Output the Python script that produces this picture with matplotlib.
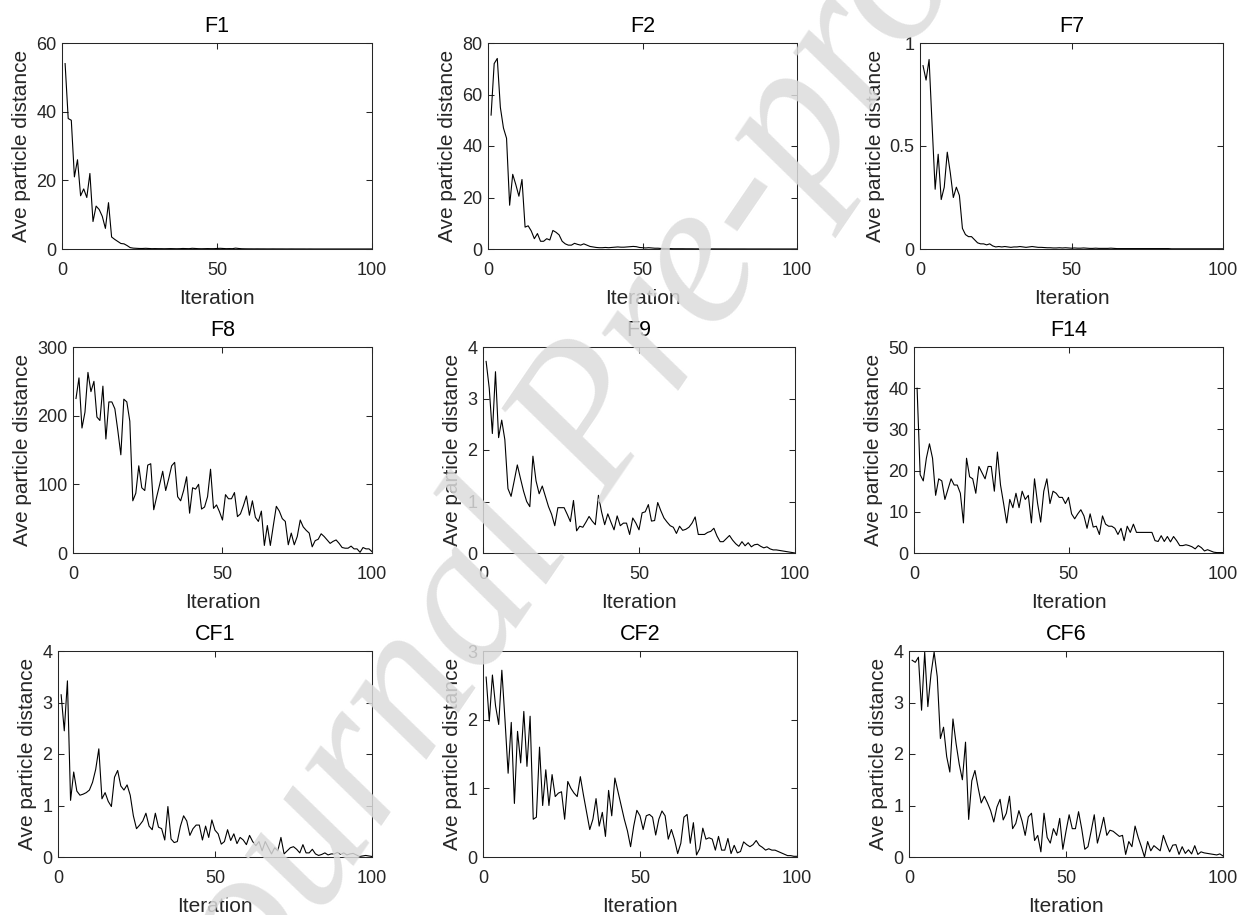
import matplotlib
matplotlib.use('Agg')
import matplotlib.pyplot as plt
from matplotlib.ticker import FuncFormatter

plt.rcParams['font.family'] = ['Liberation Sans', 'DejaVu Sans']

iterations = list(range(1, 101))

titles = ['F1', 'F2', 'F7', 'F8', 'F9', 'F14', 'CF1', 'CF2', 'CF6']

f1 = [54, 38, 37.5, 21, 26, 15.5, 17.5, 15, 22, 8,
      12.5, 11.5, 9.5, 6, 13.5, 3.5, 2.8, 2.2, 1.6, 1.5,
      1.0, 0.4, 0.25, 0.2, 0.15, 0.15, 0.2, 0.15, 0.1, 0.12,
      0.1, 0.1, 0.08, 0.1, 0.12, 0.1, 0.08, 0.1, 0.15, 0.12,
      0.1, 0.2, 0.15, 0.1, 0.08, 0.1, 0.12, 0.1, 0.1, 0.15,
      0.2, 0.15, 0.1, 0.12, 0.1, 0.25, 0.15, 0.08, 0.06, 0.05,
      0.05, 0.04, 0.05, 0.04, 0.04, 0.03, 0.03, 0.04, 0.03, 0.03,
      0.03, 0.02, 0.02, 0.03, 0.02, 0.02, 0.02, 0.02, 0.01, 0.02,
      0.01, 0.01, 0.01, 0.01, 0.01, 0.01, 0.01, 0.01, 0.01, 0.01,
      0.01, 0.01, 0.01, 0.01, 0.01, 0.01, 0.01, 0.01, 0.01, 0.01]

f2 = [52, 72, 74, 55, 47, 43, 17, 29, 25, 20.5,
      27, 8.5, 9, 7, 4, 6, 3, 3, 4, 3.5,
      7.2, 6.5, 5.5, 3, 2, 1.5, 1.5, 2.2, 1.8, 1.5,
      2, 1.5, 1, 0.8, 0.6, 0.5, 0.5, 0.6, 0.5, 0.6,
      0.7, 0.8, 0.7, 0.7, 0.8, 0.9, 1.0, 0.9, 0.6, 0.5,
      0.4, 0.5, 0.4, 0.3, 0.3, 0.2, 0.2, 0.15, 0.15, 0.1,
      0.1, 0.1, 0.1, 0.08, 0.08, 0.08, 0.06, 0.06, 0.06, 0.05,
      0.05, 0.05, 0.05, 0.04, 0.04, 0.04, 0.04, 0.03, 0.03, 0.03,
      0.03, 0.03, 0.03, 0.02, 0.02, 0.02, 0.02, 0.02, 0.02, 0.02,
      0.02, 0.01, 0.01, 0.01, 0.01, 0.01, 0.01, 0.01, 0.01, 0.01]

f7 = [0.89, 0.82, 0.92, 0.6, 0.29, 0.46, 0.24, 0.3, 0.47, 0.37,
      0.25, 0.3, 0.26, 0.1, 0.07, 0.06, 0.06, 0.045, 0.03, 0.025,
      0.025, 0.02, 0.025, 0.015, 0.01, 0.012, 0.01, 0.012, 0.01, 0.008,
      0.01, 0.01, 0.012, 0.01, 0.008, 0.01, 0.012, 0.01, 0.008, 0.008,
      0.007, 0.006, 0.006, 0.005, 0.005, 0.006, 0.005, 0.006, 0.005, 0.004,
      0.005, 0.004, 0.004, 0.005, 0.004, 0.003, 0.003, 0.004, 0.003, 0.003,
      0.003, 0.003, 0.004, 0.003, 0.002, 0.002, 0.002, 0.002, 0.002, 0.002,
      0.002, 0.002, 0.002, 0.002, 0.002, 0.002, 0.002, 0.002, 0.002, 0.002,
      0.002, 0.002, 0.001, 0.001, 0.001, 0.001, 0.001, 0.001, 0.001, 0.001,
      0.001, 0.001, 0.001, 0.001, 0.001, 0.001, 0.001, 0.001, 0.001, 0.001]

f8 = [225, 255, 182, 205, 263, 235, 250, 198, 193, 243,
      166, 220, 220, 210, 178, 143, 224, 220, 192, 76,
      87, 127, 95, 91, 128, 130, 63, 82, 100, 119,
      91, 108, 127, 132, 82, 76, 91, 111, 58, 95,
      93, 100, 64, 67, 82, 122, 65, 70, 60, 48,
      85, 79, 79, 88, 53, 57, 69, 83, 55, 76,
      52, 46, 61, 11, 40, 11, 40, 68, 61, 50,
      46, 12, 29, 12, 24, 48, 38, 33, 29, 9,
      18, 20, 28, 24, 19, 14, 17, 19, 14, 8,
      7, 7, 10, 6, 6, 1, 8, 6, 6, 2]

f9 = [3.72, 3.2, 2.32, 3.52, 2.24, 2.58, 2.2, 1.25, 1.1, 1.4,
      1.71, 1.45, 1.2, 1.0, 0.9, 1.88, 1.4, 1.15, 1.3, 1.1,
      0.9, 0.75, 0.53, 0.88, 0.88, 0.88, 0.75, 0.61, 1.02, 0.43,
      0.52, 0.5, 0.6, 0.71, 0.62, 0.55, 1.12, 0.8, 0.55, 0.76,
      0.6, 0.45, 0.72, 0.53, 0.58, 0.58, 0.36, 0.68, 0.58, 0.45,
      0.78, 0.8, 0.94, 0.62, 0.63, 0.98, 0.82, 0.68, 0.6, 0.53,
      0.5, 0.38, 0.52, 0.44, 0.46, 0.5, 0.58, 0.7, 0.36, 0.36,
      0.36, 0.4, 0.42, 0.48, 0.33, 0.22, 0.22, 0.28, 0.34, 0.25,
      0.18, 0.13, 0.22, 0.14, 0.2, 0.12, 0.16, 0.17, 0.13, 0.1,
      0.12, 0.08, 0.06, 0.06, 0.05, 0.04, 0.03, 0.02, 0.01, 0.0]

f14 = [40, 19, 17.5, 23, 26.5, 23, 14, 18, 17.5, 13,
       15.5, 18, 16.5, 16.5, 14.5, 7.3, 23, 18.5, 18, 14.5,
       21, 19.5, 18, 21, 21, 15, 24.5, 16.5, 12, 7.3,
       13, 11, 14.5, 11, 15, 13, 14, 7.3, 18, 12,
       7.5, 15, 18, 12, 15, 14.5, 13.5, 13.5, 12, 13.5,
       9.5, 8.3, 9.5, 10.5, 9, 6, 9.5, 6.3, 6.5, 4.5,
       9, 7, 6.5, 6.5, 6, 4.5, 6, 3, 6.5, 5,
       7, 5, 5, 5, 5, 5, 5, 3, 2.8, 4.2,
       2.8, 4, 2.7, 4, 3, 1.8, 1.8, 2, 1.8, 1.5,
       1.0, 1.8, 1.3, 0.5, 0.8, 0.5, 0.2, 0.1, 0.1, 0.1]

cf1 = [3.15, 2.45, 3.42, 1.1, 1.65, 1.28, 1.2, 1.22, 1.25, 1.3,
       1.45, 1.7, 2.1, 1.13, 1.25, 1.08, 0.98, 1.55, 1.68, 1.38,
       1.3, 1.4, 1.2, 0.8, 0.55, 0.62, 0.7, 0.85, 0.6, 0.53,
       0.85, 0.58, 0.55, 0.33, 0.98, 0.35, 0.28, 0.3, 0.6, 0.8,
       0.7, 0.42, 0.55, 0.62, 0.62, 0.33, 0.6, 0.38, 0.72, 0.52,
       0.45, 0.25, 0.3, 0.53, 0.32, 0.45, 0.26, 0.38, 0.33, 0.24,
       0.42, 0.3, 0.22, 0.3, 0.12, 0.3, 0.18, 0.06, 0.18, 0.12,
       0.38, 0.06, 0.12, 0.18, 0.2, 0.15, 0.08, 0.24, 0.08, 0.08,
       0.15, 0.06, 0.03, 0.05, 0.08, 0.04, 0.06, 0.06, 0.09, 0.05,
       0.08, 0.04, 0.06, 0.07, 0.04, 0.01, 0.02, 0.03, 0.02, 0.01]

cf2 = [2.62, 1.98, 2.65, 2.2, 1.93, 2.72, 2.0, 1.22, 1.96, 0.78,
       1.83, 1.37, 2.12, 1.32, 2.05, 0.55, 0.58, 1.6, 0.75, 1.27,
       0.75, 1.2, 0.88, 0.93, 0.95, 0.55, 1.1, 1.0, 0.93, 0.88,
       1.17, 0.9, 0.65, 0.4, 0.55, 0.85, 0.45, 0.65, 0.3, 0.97,
       0.6, 1.15, 0.95, 0.75, 0.55, 0.38, 0.15, 0.45, 0.68, 0.6,
       0.4, 0.6, 0.62, 0.58, 0.32, 0.55, 0.67, 0.6, 0.26, 0.4,
       0.25, 0.05, 0.2, 0.58, 0.62, 0.2, 0.5, 0.03, 0.12, 0.42,
       0.26, 0.28, 0.26, 0.1, 0.3, 0.1, 0.1, 0.27, 0.05, 0.17,
       0.06, 0.08, 0.22, 0.18, 0.15, 0.18, 0.24, 0.17, 0.14, 0.1,
       0.12, 0.1, 0.1, 0.08, 0.06, 0.04, 0.02, 0.02, 0.01, 0.01]

cf6 = [3.82, 3.78, 3.88, 2.85, 3.98, 2.92, 3.55, 3.98, 3.5, 2.3,
       2.52, 1.95, 1.65, 2.68, 2.2, 1.8, 1.5, 2.23, 0.73, 1.48,
       1.68, 1.35, 1.05, 1.18, 1.05, 0.9, 0.68, 0.97, 1.12, 0.72,
       0.85, 1.18, 0.55, 0.65, 0.9, 0.7, 0.42, 0.78, 0.85, 0.32,
       0.42, 0.1, 0.85, 0.38, 0.27, 0.55, 0.42, 0.75, 0.15, 0.5,
       0.82, 0.55, 0.55, 0.88, 0.55, 0.15, 0.2, 0.5, 0.82, 0.27,
       0.5, 0.77, 0.42, 0.52, 0.5, 0.45, 0.4, 0.42, 0.05, 0.3,
       0.2, 0.6, 0.38, 0.2, 0.0, 0.3, 0.12, 0.22, 0.17, 0.12,
       0.42, 0.25, 0.1, 0.23, 0.24, 0.05, 0.2, 0.07, 0.14, 0.06,
       0.22, 0.05, 0.1, 0.08, 0.07, 0.06, 0.05, 0.04, 0.06, 0.02]

series = [f1, f2, f7, f8, f9, f14, cf1, cf2, cf6]

y_max = [60, 80, 1, 300, 4, 50, 4, 3, 4]
y_ticks = [[0, 20, 40, 60], [0, 20, 40, 60, 80], [0, 0.5, 1],
           [0, 100, 200, 300], [0, 1, 2, 3, 4], [0, 10, 20, 30, 40, 50],
           [0, 1, 2, 3, 4], [0, 1, 2, 3], [0, 1, 2, 3, 4]]
x_ticks = [0, 50, 100]

x_label = 'Iteration'
y_label = 'Ave particle distance'
watermark = 'Journal Pre-proof'

# layout (pixel boxes: left, top, right, bottom)
W, H = 1250, 915
boxes = [(62, 43, 372, 249), (488, 43, 797, 249), (920, 43, 1223, 249),
         (73, 347, 372, 553), (483, 347, 795, 553), (914, 347, 1223, 553),
         (58, 651, 372, 857), (483, 651, 797, 857), (909, 651, 1223, 857)]

fig = plt.figure(figsize=(W / 100, H / 100), dpi=100)
fig.patch.set_facecolor('white')

axcol = '#262626'
fmt = FuncFormatter(lambda v, p: '%g' % v)

for i in range(9):
    l, t, r, b = boxes[i]
    ax = fig.add_axes([l / W, 1 - b / H, (r - l) / W, (b - t) / H])
    ax.plot(iterations, series[i], color='black', linewidth=0.8)
    ax.set_xlim(0, 100)
    ax.set_ylim(0, y_max[i])
    ax.set_xticks(x_ticks)
    ax.set_yticks(y_ticks[i])
    ax.xaxis.set_major_formatter(fmt)
    ax.yaxis.set_major_formatter(fmt)
    ax.tick_params(direction='in', top=True, right=True, length=4,
                   width=0.75, color=axcol, labelcolor=axcol, labelsize=13)
    ax.tick_params(axis='x', pad=9.2)
    ax.tick_params(axis='y', pad=4)
    for s in ax.spines.values():
        s.set_color(axcol)
        s.set_linewidth(0.75)
    ax.set_title(titles[i], fontsize=15.5, color='black', pad=7.8)
    ax.set_xlabel(x_label, fontsize=15, color=axcol, labelpad=7)
    ax.set_ylabel(y_label, fontsize=15, color=axcol, labelpad=3.5)

# "Journal Pre-proof" watermark overlaid on the page
fig.text(590 / W, 1 - 430 / H, watermark, rotation=55.7,
         rotation_mode='anchor', ha='center', va='center',
         fontsize=150, color='#dcdcdc', alpha=0.85,
         family='Liberation Serif', style='italic', zorder=10)

fig.savefig('out.png', dpi=100, facecolor='white')
